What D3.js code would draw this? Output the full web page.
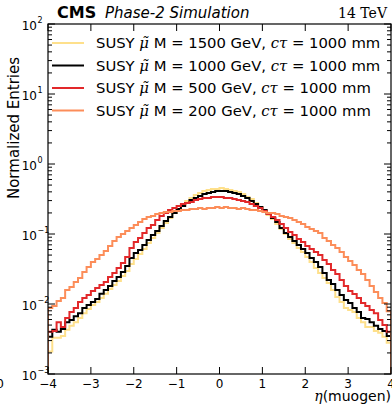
<!DOCTYPE html>
<html>
<head>
<meta charset="utf-8">
<script src="https://cdn.jsdelivr.net/npm/d3@7"></script>
<style>
  html, body { margin: 0; padding: 0; background: #fff; }
  svg { display: block; }
  text { font-family: "DejaVu Sans", sans-serif; }
</style>
</head>
<body>
<div id="chart"></div>
<script>
// histogram binning: 80 bins of 0.1 in eta from -4 to 4
const etaMin = -4, etaMax = 4, nBins = 80;
const xTicks = [-4, -3, -2, -1, 0, 1, 2, 3, 4];
const yTickExp = [2, 1, 0, -1, -2, -3];

const seriesLabels = ["1500", "1000", "500", "200"];
const seriesColors = ["#fee08b", "#000000", "#e2282a", "#fc8d59"];

// normalized entries per bin
const m1500 = [
  0.0021, 0.0033, 0.0033, 0.0035, 0.0043, 0.0049, 0.0055, 0.0063, 0.0074, 0.0085,
  0.0097, 0.0107, 0.0122, 0.014, 0.0164, 0.0187, 0.0213, 0.0251, 0.0296, 0.0373,
  0.044, 0.0518, 0.061, 0.0743, 0.0877, 0.103, 0.122, 0.144, 0.169, 0.2,
  0.227, 0.26, 0.296, 0.327, 0.361, 0.385, 0.411, 0.425, 0.439, 0.439,
  0.454, 0.439, 0.425, 0.411, 0.398, 0.373, 0.338, 0.316, 0.277, 0.243,
  0.213, 0.187, 0.164, 0.139, 0.118, 0.1, 0.0848, 0.0743, 0.0631, 0.0553,
  0.0469, 0.0398, 0.0327, 0.0277, 0.0235, 0.02, 0.0158, 0.0126, 0.0107, 0.0088,
  0.0082, 0.0077, 0.0063, 0.0055, 0.0047, 0.0047, 0.0041, 0.0039, 0.0034, 0.0028
];
const m1000 = [
  0.0034, 0.0043, 0.004, 0.0044, 0.0055, 0.0059, 0.0067, 0.0074, 0.0088, 0.0097,
  0.0107, 0.0118, 0.014, 0.0158, 0.0181, 0.0213, 0.0243, 0.0287, 0.0349, 0.0454,
  0.0535, 0.059, 0.0697, 0.082, 0.0968, 0.11, 0.13, 0.153, 0.175, 0.2,
  0.227, 0.251, 0.277, 0.306, 0.327, 0.349, 0.373, 0.385, 0.398, 0.411,
  0.411, 0.411, 0.398, 0.385, 0.373, 0.349, 0.327, 0.296, 0.268, 0.243,
  0.22, 0.193, 0.169, 0.148, 0.122, 0.103, 0.0906, 0.0794, 0.0697, 0.061,
  0.0535, 0.0454, 0.0398, 0.0338, 0.0277, 0.022, 0.0193, 0.0158, 0.0135, 0.0114,
  0.0103, 0.0088, 0.0077, 0.0063, 0.0061, 0.0055, 0.0049, 0.0044, 0.0041, 0.0035
];
const m500 = [
  0.004, 0.0041, 0.0055, 0.0047, 0.0063, 0.0077, 0.0088, 0.0107, 0.0122, 0.0135,
  0.0153, 0.0169, 0.0187, 0.0206, 0.0243, 0.0277, 0.0327, 0.0385, 0.0469, 0.0631,
  0.0768, 0.0877, 0.103, 0.122, 0.1345, 0.158, 0.181, 0.2, 0.22, 0.235,
  0.251, 0.268, 0.277, 0.286, 0.306, 0.316, 0.327, 0.327, 0.338, 0.338,
  0.338, 0.327, 0.327, 0.316, 0.306, 0.296, 0.286, 0.268, 0.251, 0.235,
  0.213, 0.193, 0.175, 0.158, 0.139, 0.122, 0.107, 0.0968, 0.0848, 0.0768,
  0.0674, 0.061, 0.0553, 0.0501, 0.0425, 0.0373, 0.0306, 0.0268, 0.022, 0.0181,
  0.0153, 0.0139, 0.0122, 0.0103, 0.0094, 0.0082, 0.0074, 0.0059, 0.005, 0.004
];
const m200 = [
  0.0088, 0.0094, 0.011, 0.0122, 0.0158, 0.0175, 0.0206, 0.0235, 0.0287, 0.0338,
  0.0398, 0.044, 0.0501, 0.0571, 0.0674, 0.0794, 0.0906, 0.1, 0.11, 0.122,
  0.1345, 0.148, 0.164, 0.175, 0.181, 0.193, 0.2, 0.206, 0.206, 0.213,
  0.213, 0.22, 0.22, 0.227, 0.227, 0.235, 0.227, 0.235, 0.235, 0.243,
  0.235, 0.243, 0.235, 0.235, 0.227, 0.235, 0.227, 0.22, 0.22, 0.213,
  0.206, 0.2, 0.2, 0.193, 0.181, 0.175, 0.169, 0.158, 0.148, 0.139,
  0.126, 0.118, 0.11, 0.103, 0.0877, 0.0794, 0.0697, 0.0631, 0.0553, 0.0469,
  0.0411, 0.0361, 0.0306, 0.0268, 0.022, 0.0181, 0.0148, 0.0122, 0.0103, 0.0079
];
const seriesValues = [m1500, m1000, m500, m200];

const W = 392, H = 406;
const margin = { top: 24, right: 1, bottom: 32, left: 48 };

const svg = d3.select("#chart").append("svg")
  .attr("width", W)
  .attr("height", H);

const x = d3.scaleLinear().domain([etaMin, etaMax]).range([margin.left, W - margin.right]);
const y = d3.scaleLog().domain([1e-3, 1e2]).range([H - margin.bottom, margin.top]);

const x0 = x.range()[0], x1 = x.range()[1];
const y0 = y.range()[0], y1 = y.range()[1];

svg.append("clipPath").attr("id", "plotclip")
  .append("rect")
  .attr("x", x0).attr("y", y1)
  .attr("width", x1 - x0).attr("height", y0 - y1);

// histograms (step outlines)
const binW = (etaMax - etaMin) / nBins;
const line = d3.line()
  .x(d => x(d[0]))
  .y(d => y(d[1]))
  .curve(d3.curveStepAfter);

const hists = svg.append("g").attr("clip-path", "url(#plotclip)");
seriesValues.forEach((vals, i) => {
  const pts = [[etaMin, 1e-3]];
  vals.forEach((v, k) => pts.push([etaMin + k * binW, v]));
  pts.push([etaMax, vals[vals.length - 1]]);
  pts.push([etaMax, 1e-3]);
  hists.append("path")
    .attr("d", line(pts))
    .attr("fill", "none")
    .attr("stroke", seriesColors[i])
    .attr("stroke-width", 2);
});

// frame
svg.append("rect")
  .attr("x", x0).attr("y", y1)
  .attr("width", x1 - x0).attr("height", y0 - y1)
  .attr("fill", "none")
  .attr("stroke", "#000")
  .attr("stroke-width", 1.2);

// x ticks, inward on bottom and top
const gx = svg.append("g").attr("stroke", "#000").attr("stroke-width", 1);
xTicks.forEach(t => {
  gx.append("line").attr("x1", x(t)).attr("x2", x(t)).attr("y1", y0).attr("y2", y0 - 7);
  gx.append("line").attr("x1", x(t)).attr("x2", x(t)).attr("y1", y1).attr("y2", y1 + 7);
});
svg.append("g").selectAll("text")
  .data(xTicks)
  .join("text")
  .attr("x", d => x(d))
  .attr("y", y0 + 14)
  .attr("text-anchor", "middle")
  .style("font-size", "12px")
  .text(d => d < 0 ? "\u2212" + Math.abs(d) : d);

// y ticks (log, major + minor), inward on left and right
const gy = svg.append("g").attr("stroke", "#000").attr("stroke-width", 1);
yTickExp.forEach(e => {
  const v = Math.pow(10, e);
  gy.append("line").attr("x1", x0).attr("x2", x0 + 7).attr("y1", y(v)).attr("y2", y(v));
  gy.append("line").attr("x1", x1).attr("x2", x1 - 7).attr("y1", y(v)).attr("y2", y(v));
  if (e < 2) {
    for (let m = 2; m <= 9; m++) {
      const mv = m * v;
      gy.append("line").attr("x1", x0).attr("x2", x0 + 4).attr("y1", y(mv)).attr("y2", y(mv));
      gy.append("line").attr("x1", x1).attr("x2", x1 - 4).attr("y1", y(mv)).attr("y2", y(mv));
    }
  }
});
const ylab = svg.append("g");
yTickExp.forEach(e => {
  const yy = y(Math.pow(10, e));
  ylab.append("text")
    .attr("x", 37).attr("y", yy + 5.5)
    .attr("text-anchor", "end")
    .style("font-size", "12px")
    .text("10");
  ylab.append("text")
    .attr("x", 37.5).attr("y", yy - 1)
    .style("font-size", "8px")
    .text(e < 0 ? "\u2212" + Math.abs(e) : e);
});

// stray tick label at the left edge
svg.append("text")
  .attr("x", 4).attr("y", y0 + 14)
  .attr("text-anchor", "end")
  .style("font-size", "12px")
  .text("0");

// axis titles
svg.append("text")
  .attr("transform", `translate(19,128) rotate(-90)`)
  .attr("text-anchor", "middle")
  .style("font-size", "15px")
  .text("Normalized Entries");

const xl = svg.append("text")
  .attr("x", x1).attr("y", 401)
  .attr("text-anchor", "end")
  .style("font-size", "14px");
xl.append("tspan").style("font-family", "DejaVu Serif").style("font-style", "italic").text("\u03b7");
xl.append("tspan").text("(muogen)");

// header
svg.append("text")
  .attr("x", 57).attr("y", 18)
  .style("font-size", "16px")
  .style("font-weight", "bold")
  .text("CMS");
svg.append("text")
  .attr("x", 105).attr("y", 18)
  .style("font-size", "15px")
  .style("font-style", "italic")
  .text("Phase-2 Simulation");
svg.append("text")
  .attr("x", 387).attr("y", 18)
  .attr("text-anchor", "end")
  .style("font-family", "DejaVu Serif")
  .style("font-size", "14px")
  .text("14 TeV");

// legend
const legendY = [43, 65.5, 88, 110.5];
const leg = svg.append("g");
seriesLabels.forEach((m, i) => {
  leg.append("line")
    .attr("x1", 52).attr("x2", 84)
    .attr("y1", legendY[i]).attr("y2", legendY[i])
    .attr("stroke", seriesColors[i])
    .attr("stroke-width", 2);
  const t = leg.append("text")
    .attr("x", 96).attr("y", legendY[i] + 5)
    .style("font-size", "14.8px");
  t.append("tspan").text("SUSY ");
  t.append("tspan").style("font-family", "DejaVu Serif").style("font-style", "italic").text("\u03bc\u0303");
  t.append("tspan").text(` M = ${m} GeV, `);
  t.append("tspan").style("font-family", "DejaVu Serif").style("font-style", "italic").text("c\u03c4");
  t.append("tspan").text(" = 1000 mm");
});
</script>
</body>
</html>
